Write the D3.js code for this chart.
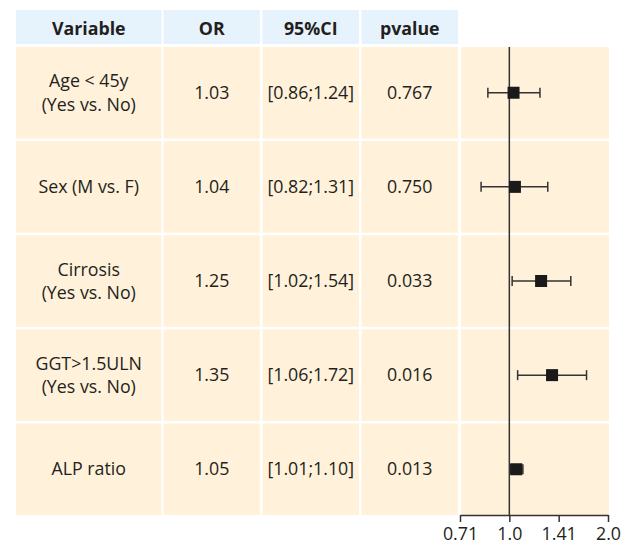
<!DOCTYPE html>
<html><head><meta charset="utf-8">
<script src="https://cdn.jsdelivr.net/npm/d3@7"></script>
<style>body{margin:0;background:#fff}svg{display:block}text{font-family:"Open Sans",sans-serif;fill:#231f20}</style>
</head><body>
<svg id="c" width="630" height="544"></svg>
<script>
const variables = [["Age < 45y","(Yes vs. No)"],["Sex (M vs. F)"],["Cirrosis","(Yes vs. No)"],["GGT>1.5ULN","(Yes vs. No)"],["ALP ratio"]];
const orValues = [1.03, 1.04, 1.25, 1.35, 1.05];
const lowerCI = [0.86, 0.82, 1.02, 1.06, 1.01];
const upperCI = [1.24, 1.31, 1.54, 1.72, 1.10];
const ciLabels = ["[0.86;1.24]","[0.82;1.31]","[1.02;1.54]","[1.06;1.72]","[1.01;1.10]"];
const orLabels = ["1.03","1.04","1.25","1.35","1.05"];
const pValues = ["0.767","0.750","0.033","0.016","0.013"];
const headers = ["Variable","OR","95%CI","pvalue"];
const tickValues = [Math.SQRT1_2, 1, Math.SQRT2, 2];
const tickLabels = ["0.71","1.0","1.41","2.0"];

const svg = d3.select("#c");
const colEdges = [[16,161.5],[163.5,260],[262.5,359],[361.5,458]];
const plotX = [461, 609];
const y = d3.scaleBand().domain(d3.range(variables.length)).range([47,515]).paddingInner(0.028).paddingOuter(0);
const x = d3.scaleLog().base(2).domain([Math.SQRT1_2, 2]).range([460, 608]);

const blue = "#e6f3fd", beige = "#fff1da";
const fs = 17.8;

// header
colEdges.forEach((c,i)=>{
  svg.append("rect").attr("x",c[0]).attr("y",10).attr("width",c[1]-c[0]).attr("height",34).attr("fill",blue);
  svg.append("text").attr("x",(c[0]+c[1])/2).attr("y",35).attr("text-anchor","middle")
    .attr("font-weight","bold").attr("font-size",fs).text(headers[i]);
});

// rows
const cols = [variables, orLabels.map(d=>[d]), ciLabels.map(d=>[d]), pValues.map(d=>[d])];
variables.forEach((v,r)=>{
  const y0 = y(r), h = y.bandwidth(), cy = y0 + h/2;
  colEdges.forEach((c,i)=>{
    svg.append("rect").attr("x",c[0]).attr("y",y0).attr("width",c[1]-c[0]).attr("height",h).attr("fill",beige);
    const lines = cols[i][r];
    lines.forEach((t,k)=>{
      svg.append("text").attr("x",(c[0]+c[1])/2).attr("y",cy + (k-(lines.length-1)/2)*23.3).attr("dy","0.35em")
        .attr("text-anchor","middle").attr("font-size",fs).text(t);
    });
  });
  svg.append("rect").attr("x",plotX[0]).attr("y",y0).attr("width",plotX[1]-plotX[0]).attr("height",h).attr("fill",beige);
});

// reference line
svg.append("line").attr("x1",x(1)).attr("x2",x(1)).attr("y1",47).attr("y2",515).attr("stroke","#333").attr("stroke-width",1.5);

// error bars and markers
const g = svg.append("g");
variables.forEach((v,r)=>{
  const cy = y(r)+y.bandwidth()/2;
  g.append("line").attr("x1",x(lowerCI[r])).attr("x2",x(upperCI[r])).attr("y1",cy).attr("y2",cy).attr("stroke","#333").attr("stroke-width",1.5);
  [lowerCI[r],upperCI[r]].forEach(val=>{
    g.append("line").attr("x1",x(val)).attr("x2",x(val)).attr("y1",cy-5).attr("y2",cy+5).attr("stroke","#333").attr("stroke-width",1.5);
  });
  g.append("rect").attr("x",x(orValues[r])-6).attr("y",cy-6).attr("width",12).attr("height",12).attr("fill","#1a1a1a");
});

// axis
const axis = d3.axisBottom(x).tickValues(tickValues).tickFormat((d,i)=>tickLabels[i]).tickSize(7).tickSizeOuter(0);
const ax = svg.append("g").attr("transform","translate(0,515)").call(axis);
ax.select(".domain").attr("stroke","#333").attr("stroke-width",1.5);
ax.selectAll(".tick line").attr("stroke","#333").attr("stroke-width",1.5);
ax.selectAll(".tick text").attr("font-size",fs).attr("font-family","'Open Sans',sans-serif").attr("fill","#231f20").attr("y",12).attr("dy","0.71em");
</script>
</body></html>
